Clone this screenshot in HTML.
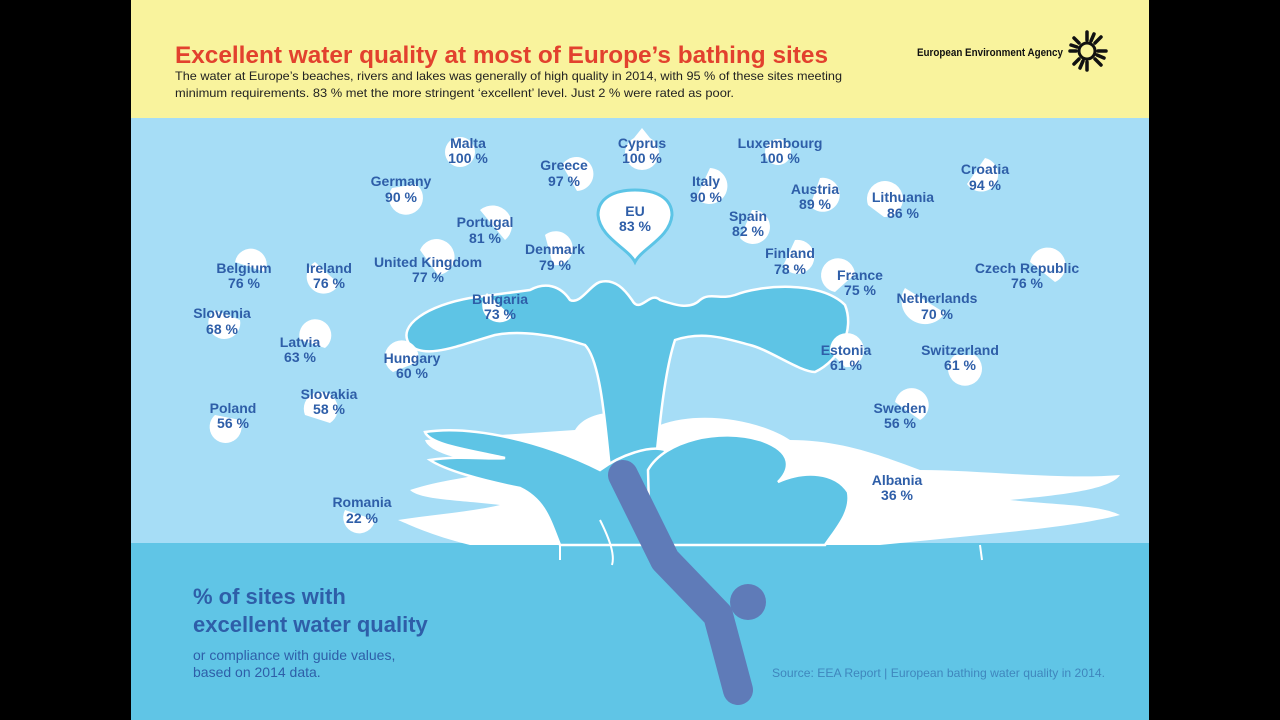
<!DOCTYPE html>
<html><head><meta charset="utf-8"><style>
html,body{margin:0;padding:0;background:#000;}
svg{display:block;}
text{font-family:"Liberation Sans",sans-serif;}
.n{font-weight:bold;font-size:14px;fill:#2e5ea8;text-anchor:middle;}
</style></head><body>
<svg width="1280" height="720" viewBox="0 0 1280 720" xmlns="http://www.w3.org/2000/svg">
<rect x="0" y="0" width="1280" height="720" fill="#000"/>
<rect x="131" y="0" width="1018" height="118" fill="#f9f39d"/>
<rect x="131" y="118" width="1018" height="426" fill="#a6ddf6"/>
<rect x="131" y="543" width="1018" height="177" fill="#60c5e6"/>
<text x="175" y="63" font-size="24" font-weight="bold" fill="#e2412e" textLength="653" lengthAdjust="spacingAndGlyphs">Excellent water quality at most of Europe’s bathing sites</text>
<text x="175" y="80" font-size="12" fill="#222" textLength="667" lengthAdjust="spacingAndGlyphs">The water at Europe’s beaches, rivers and lakes was generally of high quality in 2014, with 95 % of these sites meeting</text>
<text x="175" y="97" font-size="12" fill="#222" textLength="559" lengthAdjust="spacingAndGlyphs">minimum requirements. 83 % met the more stringent ‘excellent’ level.  Just 2 % were rated as poor.</text>
<text x="917" y="56" font-size="11" font-weight="bold" fill="#111" textLength="146" lengthAdjust="spacingAndGlyphs">European Environment Agency</text>
<g transform="translate(1087,51)" stroke="#111" stroke-width="3.5" stroke-linecap="round">
<circle r="8" fill="none" stroke-width="3"/>
<line x1="0" y1="-11" x2="0" y2="-19"/><line x1="0" y1="11" x2="0" y2="19"/>
<line x1="11" y1="0" x2="19" y2="0"/><line x1="-11" y1="0" x2="-17" y2="0"/>
<line x1="8" y1="-8" x2="14" y2="-14"/><line x1="-8" y1="8" x2="-13" y2="13"/>
<line x1="8" y1="8" x2="14" y2="14"/><line x1="-8" y1="-8" x2="-13" y2="-13"/>
<line x1="4" y1="-10" x2="7" y2="-17"/><line x1="10" y1="4" x2="17" y2="7"/>
<line x1="-4" y1="10" x2="-7" y2="17"/><line x1="-10" y1="-4" x2="-16" y2="-6"/>
</g>

<!-- white fringe lower -->
<path d="M575,430 C590,405 640,410 660,425 C700,410 760,420 790,440 C840,440 880,455 920,470 C980,470 1060,480 1120,475 C1110,490 1060,495 1010,500 C1060,505 1100,505 1120,515 C1080,525 1030,530 980,535 L880,545 L470,545 C430,535 410,525 398,520 C430,515 470,512 500,505 C460,500 420,500 410,490 C440,480 470,478 500,470 C470,460 430,455 425,440 Z" fill="#fff"/>
<!-- splash upper -->
<path d="M410,345 C395,325 430,305 470,298 L530,290 C545,282 560,285 570,300 C580,305 590,285 600,282 C615,278 625,290 632,300 C640,315 650,290 660,300 C675,305 690,310 700,300 C710,292 720,300 735,295 C760,285 820,280 845,305 C855,330 840,360 815,372 C800,372 770,350 750,345 C730,340 705,330 675,340 C665,370 660,420 655,470 L610,470 C605,420 600,360 585,345 C555,335 520,330 495,335 C460,345 425,360 410,345 Z" fill="#5ec4e5" stroke="#fff" stroke-width="2.5"/>
<!-- lower blue pieces -->
<path d="M425,432 C470,425 540,440 600,470 C620,455 650,445 665,450 L665,545 L560,545 C550,520 545,500 520,488 C480,480 445,470 430,460 C460,455 490,460 505,458 C470,450 430,445 425,432 Z" fill="#5ec4e5" stroke="#fff" stroke-width="2.5"/>
<path d="M648,470 C665,440 720,428 760,440 C795,452 790,470 778,482 C805,470 835,472 848,492 C852,512 835,530 825,545 L650,545 Z" fill="#5ec4e5" stroke="#fff" stroke-width="2.5"/>
<path d="M560,545 L560,560 M600,520 C610,540 615,555 612,565 M980,545 L982,560" stroke="#fff" stroke-width="2" fill="none"/>
<!-- diver -->
<path d="M623,475 L665,560 L718,615 L738,690" fill="none" stroke="#5f7bb8" stroke-width="30" stroke-linejoin="round" stroke-linecap="round"/>
<circle cx="748" cy="602" r="18" fill="#5f7bb8"/>

<!-- drops -->
<g fill="#fff">
<path d="M642,128 l8,10 a17,17 0 1 1 -16,0 z"/>
<circle cx="460" cy="152" r="15"/><circle cx="778" cy="152" r="13"/>
<path d="M562,165 a17,17 0 1 1 15,26 z"/>
<path d="M392,188 a17,17 0 1 0 24,-4 z"/>
<path d="M710,168 a18,18 0 1 1 -14,30 z"/>
<path d="M820,178 a17,17 0 1 1 -10,28 z"/>
<path d="M985,158 a17,17 0 1 1 -18,26 z"/>
<path d="M868,205 a18,18 0 1 1 16,12 z"/>
<path d="M752,210 a17,17 0 1 1 -12,28 z"/>
<path d="M480,210 a18,18 0 1 1 25,30 z"/>
<path d="M545,235 a17,17 0 1 1 8,30 z"/>
<path d="M795,240 a17,17 0 1 1 -12,26 z"/>
<path d="M420,250 a18,18 0 1 1 18,25 z"/>
<path d="M235,262 a16,16 0 1 1 30,10 z"/>
<path d="M315,262 a17,17 0 1 0 24,22 z"/>
<path d="M1030,262 a18,18 0 1 1 25,20 z"/>
<path d="M835,292 a17,17 0 1 1 20,-18 z"/>
<path d="M487,293 a17,17 0 1 0 25,24 z"/>
<path d="M905,288 a18,18 0 1 0 40,25 z"/>
<path d="M215,310 a16,16 0 1 0 25,10 z"/>
<path d="M300,340 a16,16 0 1 1 25,8 z"/>
<path d="M830,352 a17,17 0 1 1 15,15 z"/>
<path d="M955,355 a17,17 0 1 0 20,0 z"/>
<path d="M393,372 a17,17 0 1 1 25,-10 z"/>
<path d="M305,415 a17,17 0 1 1 25,8 z"/>
<path d="M215,415 a16,16 0 1 0 25,5 z"/>
<path d="M895,402 a17,17 0 1 1 25,18 z"/>
<path d="M880,490 a16,16 0 1 1 30,-5 z"/>
<path d="M345,510 a16,16 0 1 0 30,10 z"/>
</g>
<path d="M635,262 C628,248 600,238 598,215 C598,198 614,190 635,190 C656,190 672,198 672,215 C670,238 642,248 635,262 Z" fill="#fff" stroke="#5cc4e6" stroke-width="3"/>

<g class="n">
<text class="n" x="468" y="148">Malta</text><text class="n" x="468" y="163">100 %</text>
<text class="n" x="642" y="148">Cyprus</text><text class="n" x="642" y="163">100 %</text>
<text class="n" x="780" y="148">Luxembourg</text><text class="n" x="780" y="163">100 %</text>
<text class="n" x="564" y="170">Greece</text><text class="n" x="564" y="186">97 %</text>
<text class="n" x="401" y="186">Germany</text><text class="n" x="401" y="202">90 %</text>
<text class="n" x="706" y="186">Italy</text><text class="n" x="706" y="202">90 %</text>
<text class="n" x="815" y="194">Austria</text><text class="n" x="815" y="209">89 %</text>
<text class="n" x="985" y="174">Croatia</text><text class="n" x="985" y="190">94 %</text>
<text class="n" x="903" y="202">Lithuania</text><text class="n" x="903" y="218">86 %</text>
<text class="n" x="635" y="216">EU</text><text class="n" x="635" y="231">83 %</text>
<text class="n" x="748" y="221">Spain</text><text class="n" x="748" y="236">82 %</text>
<text class="n" x="485" y="227">Portugal</text><text class="n" x="485" y="243">81 %</text>
<text class="n" x="555" y="254">Denmark</text><text class="n" x="555" y="270">79 %</text>
<text class="n" x="790" y="258">Finland</text><text class="n" x="790" y="274">78 %</text>
<text class="n" x="428" y="267">United Kingdom</text><text class="n" x="428" y="282">77 %</text>
<text class="n" x="244" y="273">Belgium</text><text class="n" x="244" y="288">76 %</text>
<text class="n" x="329" y="273">Ireland</text><text class="n" x="329" y="288">76 %</text>
<text class="n" x="1027" y="273">Czech Republic</text><text class="n" x="1027" y="288">76 %</text>
<text class="n" x="860" y="280">France</text><text class="n" x="860" y="295">75 %</text>
<text class="n" x="500" y="304">Bulgaria</text><text class="n" x="500" y="319">73 %</text>
<text class="n" x="937" y="303">Netherlands</text><text class="n" x="937" y="319">70 %</text>
<text class="n" x="222" y="318">Slovenia</text><text class="n" x="222" y="334">68 %</text>
<text class="n" x="300" y="347">Latvia</text><text class="n" x="300" y="362">63 %</text>
<text class="n" x="846" y="355">Estonia</text><text class="n" x="846" y="370">61 %</text>
<text class="n" x="960" y="355">Switzerland</text><text class="n" x="960" y="370">61 %</text>
<text class="n" x="412" y="363">Hungary</text><text class="n" x="412" y="378">60 %</text>
<text class="n" x="329" y="399">Slovakia</text><text class="n" x="329" y="414">58 %</text>
<text class="n" x="233" y="413">Poland</text><text class="n" x="233" y="428">56 %</text>
<text class="n" x="900" y="413">Sweden</text><text class="n" x="900" y="428">56 %</text>
<text class="n" x="897" y="485">Albania</text><text class="n" x="897" y="500">36 %</text>
<text class="n" x="362" y="507">Romania</text><text class="n" x="362" y="523">22 %</text>
</g>

<text x="193" y="604" font-size="22" font-weight="bold" fill="#2e5ea8">% of sites with</text>
<text x="193" y="632" font-size="22" font-weight="bold" fill="#2e5ea8">excellent water quality</text>
<text x="193" y="660" font-size="14" fill="#2e5ea8">or compliance with guide values,</text>
<text x="193" y="677" font-size="14" fill="#2e5ea8">based on 2014 data.</text>
<text x="772" y="677" font-size="12" fill="#3f86bd" textLength="333" lengthAdjust="spacingAndGlyphs">Source: EEA Report | European bathing water quality in 2014.</text>
</svg>
</body></html>
